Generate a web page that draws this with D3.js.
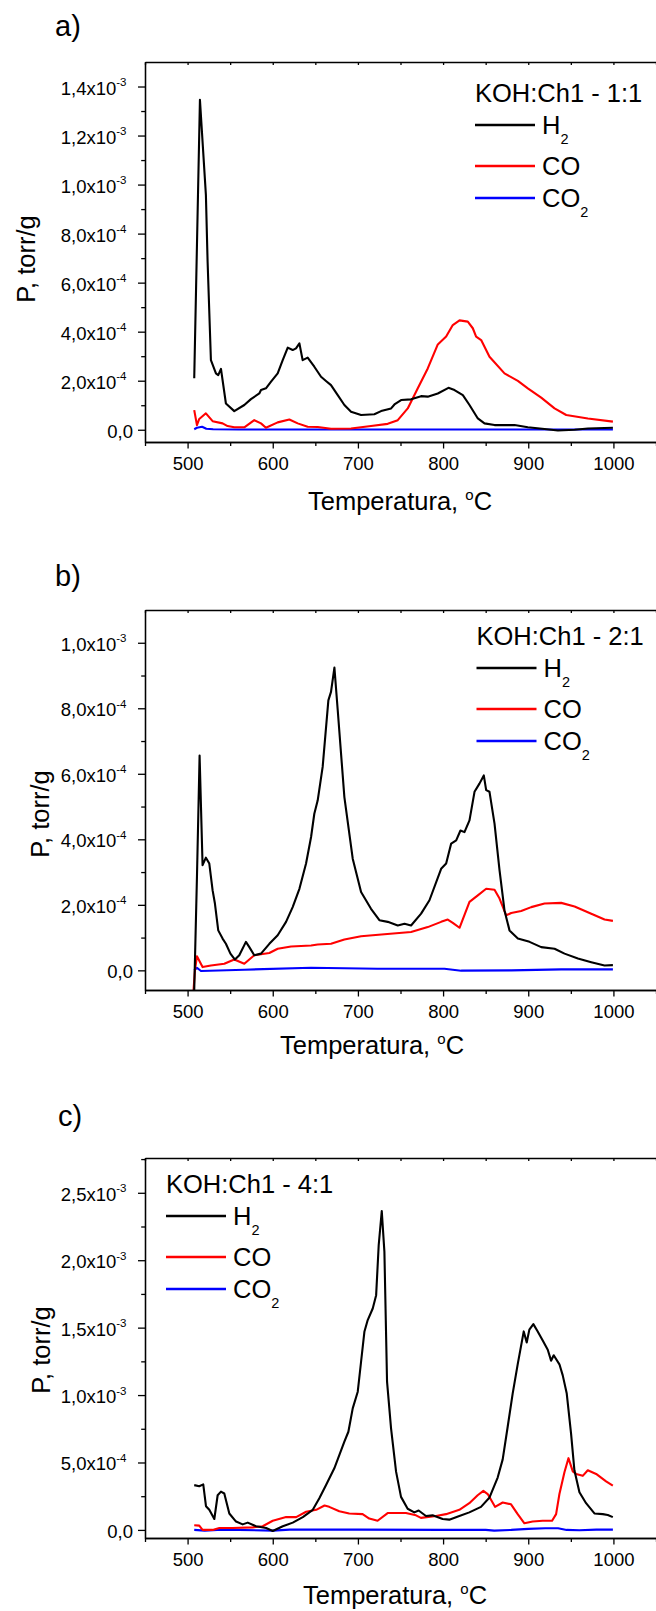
<!DOCTYPE html>
<html>
<head>
<meta charset="utf-8">
<script src="https://cdn.jsdelivr.net/npm/d3@7/dist/d3.min.js"></script>
<style>
	body { margin: 0; background: #fff; }
	svg { display: block; }
	text { font-family: Arial, "Liberation Sans", sans-serif; fill: #000; }
	.axis path, .axis line { stroke: #000; stroke-width: 1.3; }
</style>
</head>
<body>
<div id="chart"></div>
<script>
// ---------- DATA (P in units of 1e-4 torr/g, T in °C) ----------
const seriesNames = ["H2", "CO", "CO2"];
const seriesColors = ["#000000", "#ff0000", "#0000ff"];
const legendTitles = ["KOH:Ch1 - 1:1", "KOH:Ch1 - 2:1", "KOH:Ch1 - 4:1"];
const panelLabels = ["a)", "b)", "c)"];
const xTicks = [500, 600, 700, 800, 900, 1000];
const xMinorTicks = [450, 550, 650, 750, 850, 950, 1050];
const yTicksA = [0, 2, 4, 6, 8, 10, 12, 14];
const yTicksB = [0, 2, 4, 6, 8, 10];
const yTicksC = [0, 5, 10, 15, 20, 25];

// panel a) KOH:Ch1 - 1:1
const h2A = [[507.8,2.10],[514.5,13.46],[521.5,9.58],[523.5,6.86],[527.4,2.84],[533.3,2.30],[536.0,2.23],[539.2,2.48],[545.0,1.07],[554.8,0.76],[566.6,1.01],[574.4,1.25],[584.2,1.48],[586.2,1.62],[592.0,1.69],[598.0,1.96],[605.8,2.30],[611.7,2.84],[617.6,3.35],[623.4,3.25],[627.3,3.32],[631.3,3.52],[635.1,2.84],[641.0,2.94],[648.8,2.57],[656.7,2.16],[662.5,1.99],[668.4,1.82],[676.3,1.41],[684.1,1.01],[691.9,0.73],[703.7,0.60],[719.3,0.63],[727.2,0.76],[739.0,0.87],[742.9,1.03],[750.7,1.21],[762.4,1.24],[774.2,1.37],[782.0,1.35],[793.8,1.48],[806.3,1.71],[813.4,1.62],[823.2,1.41],[831.0,1.01],[840.8,0.46],[848.6,0.26],[860.4,0.19],[883.9,0.19],[899.5,0.10],[919.1,0.03],[934.8,-0.03],[954.4,0.00],[970.0,0.05],[999.4,0.08]];
const coA = [[507.8,0.80],[511.0,0.19],[513.7,0.44],[521.5,0.67],[529.4,0.35],[541.1,0.26],[547.0,0.15],[554.8,0.10],[566.6,0.10],[578.3,0.39],[586.2,0.26],[592.0,0.08],[605.8,0.30],[619.5,0.42],[629.3,0.26],[641.0,0.12],[652.8,0.11],[668.4,0.04],[691.9,0.05],[715.4,0.15],[735.0,0.24],[746.8,0.39],[758.5,0.87],[770.3,1.69],[782.0,2.50],[793.8,3.48],[803.6,3.80],[811.4,4.27],[819.3,4.46],[829.0,4.41],[834.9,4.14],[838.8,3.80],[844.7,3.66],[854.5,2.98],[872.1,2.30],[887.8,1.99],[899.5,1.69],[915.2,1.31],[930.9,0.87],[944.6,0.60],[970.0,0.46],[999.4,0.33]];
const co2A = [[507.8,0.02],[511.0,0.08],[517.0,0.12],[522.0,0.04],[530.0,0.02],[560.0,0.01],[700.0,0.01],[900.0,0.01],[999.4,0.01]];

// panel b) KOH:Ch1 - 2:1
const h2B = [[507.8,-0.61],[511.0,2.85],[514.1,6.56],[517.6,3.21],[521.5,3.44],[525.5,3.26],[529.4,2.44],[532.1,2.04],[536.0,1.22],[541.1,0.97],[545.0,0.81],[550.3,0.51],[555.6,0.33],[560.7,0.46],[568.5,0.87],[572.5,0.71],[578.3,0.46],[586.2,0.51],[596.0,0.81],[605.8,1.07],[615.6,1.48],[623.4,1.93],[631.3,2.49],[639.1,3.26],[645.0,4.07],[648.8,4.78],[652.8,5.19],[658.6,6.21],[665.3,8.24],[668.4,8.50],[672.4,9.24],[676.3,7.94],[684.1,5.29],[693.9,3.41],[703.7,2.39],[715.4,1.88],[725.2,1.53],[735.0,1.48],[746.8,1.37],[754.7,1.42],[762.4,1.37],[774.2,1.73],[784.0,2.14],[797.7,3.10],[803.6,3.26],[809.5,3.87],[815.4,3.97],[820.4,4.27],[825.1,4.22],[831.0,4.58],[836.9,5.45],[842.7,5.70],[847.8,5.95],[850.6,5.50],[854.5,5.45],[860.4,4.48],[866.3,3.05],[872.1,1.83],[878.0,1.22],[887.8,0.97],[901.5,0.87],[915.2,0.71],[930.9,0.66],[942.6,0.51],[958.3,0.36],[974.0,0.25],[989.6,0.15],[999.4,0.16]];
const coB = [[507.0,-0.61],[508.6,0.00],[511.0,0.43],[517.6,0.10],[527.4,0.15],[543.1,0.20],[554.8,0.33],[566.6,0.20],[578.3,0.46],[596.0,0.53],[605.8,0.66],[621.5,0.73],[645.0,0.76],[652.8,0.79],[668.4,0.81],[684.1,0.94],[703.7,1.04],[731.1,1.10],[762.4,1.17],[782.0,1.32],[797.7,1.48],[805.5,1.55],[811.4,1.45],[819.3,1.30],[831.0,2.09],[840.8,2.29],[850.6,2.49],[860.4,2.46],[866.3,2.19],[874.1,1.68],[880.0,1.75],[891.7,1.81],[903.5,1.93],[919.1,2.04],[938.7,2.06],[954.4,1.95],[974.0,1.73],[989.6,1.55],[999.4,1.51]];
const co2B = [[507.8,0.00],[511.0,0.08],[515.7,-0.02],[566.6,0.02],[645.0,0.08],[723.0,0.05],[801.6,0.05],[821.2,-0.01],[880.0,0.00],[938.7,0.03],[999.4,0.03]];

// panel c) KOH:Ch1 - 4:1
const h2C = [[507.8,3.32],[513.7,3.24],[518.4,3.38],[521.6,1.76],[525.5,1.49],[531.4,0.81],[535.3,2.57],[539.2,2.84],[543.1,2.70],[549.0,1.22],[556.9,0.62],[564.7,0.41],[570.6,0.54],[580.4,0.27],[592.2,0.14],[600.0,-0.08],[611.8,0.27],[623.5,0.54],[635.3,0.95],[647.0,1.49],[654.7,2.35],[662.6,3.33],[672.3,4.57],[684.1,6.54],[688.8,7.28],[693.9,9.01],[699.8,10.25],[703.7,12.47],[707.6,14.69],[711.5,15.56],[717.4,16.42],[721.4,17.41],[724.4,21.11],[728.0,23.65],[731.1,20.62],[734.2,10.99],[738.9,7.53],[744.8,4.32],[750.6,2.45],[758.4,1.57],[766.2,1.30],[771.3,1.44],[779.9,1.03],[787.7,1.08],[799.5,0.81],[807.3,0.76],[819.1,1.03],[830.8,1.30],[844.5,1.71],[854.3,2.38],[864.1,3.88],[870.0,5.23],[875.9,7.67],[881.7,10.11],[887.6,12.28],[894.7,14.72],[898.2,13.90],[901.3,14.85],[906.0,15.26],[911.1,14.72],[917.0,14.04],[922.9,13.36],[926.8,12.55],[929.9,12.95],[936.6,12.28],[940.5,11.46],[945.2,10.11],[950.3,7.13],[954.2,4.42],[960.1,2.79],[967.9,1.98],[977.7,1.22],[987.5,1.17],[993.4,1.11],[999.3,0.95]];
const coC = [[507.8,0.35],[513.7,0.32],[517.6,0.00],[529.4,0.00],[537.3,0.14],[553.0,0.14],[576.5,0.19],[588.2,0.27],[600.0,0.68],[615.7,0.95],[627.5,0.95],[639.2,1.35],[651.0,1.49],[660.8,1.81],[666.3,1.71],[678.1,1.38],[689.8,1.22],[705.5,1.17],[713.3,0.84],[723.1,0.68],[734.9,1.25],[756.4,1.25],[768.2,1.08],[774.0,0.89],[791.7,1.03],[803.4,1.17],[819.1,1.49],[830.8,1.98],[840.6,2.57],[847.3,2.90],[852.4,2.66],[861.0,1.71],[870.0,2.03],[879.8,1.90],[887.6,1.17],[895.5,0.49],[905.2,0.62],[917.0,0.68],[928.0,0.68],[932.7,1.17],[936.6,2.66],[942.5,4.28],[947.2,5.32],[952.3,4.34],[956.2,4.15],[964.0,4.01],[969.9,4.42],[979.7,4.15],[991.4,3.60],[999.3,3.28]];
const co2C = [[507.8,0.00],[520.0,-0.05],[540.0,0.02],[600.0,-0.05],[620.0,0.02],[700.0,0.02],[800.0,0.00],[850.0,0.00],[860.0,-0.05],[880.0,0.00],[900.0,0.08],[920.0,0.12],[935.0,0.12],[945.0,0.00],[960.0,-0.03],[980.0,0.02],[999.4,0.02]];

// ---------- LAYOUT ----------
const W = 656, H = 1611;
const plot = { left: 145, right: 656, h: 380 };
const panels = [
	{ top: 62, yDomain: [-0.5, 15.0], yTicks: yTicksA, yMinorStep: 1, series: [h2A, coA, co2A],
		label: { x: 55, y: 36 }, legend: { x: 475, y: 102 }, yTitle: { x: 35, y: 259 }, xTitle: { x: 400, y: 510 } },
	{ top: 610, yDomain: [-0.6, 11.0], yTicks: yTicksB, yMinorStep: 1, series: [h2B, coB, co2B],
		label: { x: 55, y: 586 }, legend: { x: 476.5, y: 645 }, yTitle: { x: 49, y: 814 }, xTitle: { x: 372, y: 1054 } },
	{ top: 1158, yDomain: [-0.6, 27.58], yTicks: yTicksC, yMinorStep: 2.5, series: [h2C, coC, co2C],
		label: { x: 58, y: 1126 }, legend: { x: 166, y: 1193 }, yTitle: { x: 50, y: 1350 }, xTitle: { x: 395, y: 1604 } },
];

const svg = d3.select("#chart").append("svg").attr("width", W).attr("height", H);
const defs = svg.append("defs");
const x = d3.scaleLinear().domain([450, 1050]).range([plot.left, plot.right]);

function tickLabel(v) {
	if (v === 0) return { base: "0,0", exp: null };
	const val = v * 1e-4;
	const e = Math.floor(Math.log10(val) + 1e-9);
	const m = (val / Math.pow(10, e)).toFixed(1).replace(".", ",");
	return { base: `${m}x10`, exp: `${e}` };
}

panels.forEach((p, i) => {
	const bottom = p.top + plot.h;
	const y = d3.scaleLinear().domain(p.yDomain).range([bottom, p.top]);
	const g = svg.append("g").classed(`panel__${i}`, true);

	defs.append("clipPath").attr("id", `clip__${i}`)
		.append("rect")
		.attr("x", plot.left).attr("y", p.top)
		.attr("width", plot.right - plot.left).attr("height", plot.h);

	// curves
	const line = d3.line().x((d) => x(d[0])).y((d) => y(d[1]));
	const curves = g.append("g").attr("clip-path", `url(#clip__${i})`);
	[2, 1, 0].forEach((k) => {
		curves.append("path")
			.datum(p.series[k])
			.attr("d", line)
			.attr("fill", "none")
			.attr("stroke", seriesColors[k])
			.attr("stroke-width", 2.1)
			.attr("stroke-linejoin", "round");
	});

	// bottom axis
	g.append("g").classed("axis", true)
		.attr("transform", `translate(0,${bottom})`)
		.call(d3.axisBottom(x).tickValues(xMinorTicks).tickSize(4).tickSizeOuter(0).tickFormat(""));
	const xAxis = g.append("g").classed("axis", true)
		.attr("transform", `translate(0,${bottom})`)
		.call(d3.axisBottom(x).tickValues(xTicks).tickSize(6.5).tickSizeOuter(0).tickPadding(8.4).tickFormat(d3.format("d")));
	xAxis.selectAll("text").attr("font-size", 18.5).attr("font-family", null);

	// top axis (ticks inward)
	g.append("g").classed("axis", true)
		.attr("transform", `translate(0,${p.top})`)
		.call(d3.axisTop(x).tickValues(xTicks.concat(xMinorTicks)).tickSize(-3).tickSizeOuter(0).tickFormat(""));

	// left axis
	const yMax = p.yDomain[1];
	const minor = d3.range(0, yMax, p.yMinorStep).filter((v) => !p.yTicks.includes(v));
	g.append("g").classed("axis", true)
		.attr("transform", `translate(${plot.left},0)`)
		.call(d3.axisLeft(y).tickValues(minor).tickSize(3.8).tickSizeOuter(0).tickFormat(""));
	const yAxis = g.append("g").classed("axis", true)
		.attr("transform", `translate(${plot.left},0)`)
		.call(d3.axisLeft(y).tickValues(p.yTicks).tickSize(7).tickSizeOuter(0).tickFormat(""));
	yAxis.selectAll(".tick text").each(function (d) {
		const t = d3.select(this);
		const lab = tickLabel(d);
		t.attr("font-size", 18.5).attr("font-family", null)
			.attr("text-anchor", "end").attr("dy", 7.5)
			.attr("x", lab.exp ? -18.5 : -12);
		t.text(null);
		t.append("tspan").text(lab.base);
		if (lab.exp) t.append("tspan").attr("font-size", 11.5).attr("dy", -8.5).text(lab.exp);
	});

	// axis titles
	const xt = g.append("text").attr("x", p.xTitle.x).attr("y", p.xTitle.y)
		.attr("text-anchor", "middle").attr("font-size", 25.5);
	xt.append("tspan").text("Temperatura, ");
	xt.append("tspan").attr("font-size", 15).attr("dy", -10).text("o");
	xt.append("tspan").attr("dy", 10).text("C");

	g.append("text")
		.attr("transform", `translate(${p.yTitle.x},${p.yTitle.y}) rotate(-90)`)
		.attr("text-anchor", "middle").attr("font-size", 25.5)
		.text("P, torr/g");

	// panel label
	g.append("text").attr("x", p.label.x).attr("y", p.label.y)
		.attr("font-size", 29).text(panelLabels[i]);

	// legend
	const lg = g.append("g").classed("legend", true);
	lg.append("text").attr("x", p.legend.x).attr("y", p.legend.y)
		.attr("font-size", 25.5).text(legendTitles[i]);
	const rowOffsets = [23, 64, 96];
	seriesNames.forEach((name, k) => {
		const ly = p.legend.y + rowOffsets[k];
		lg.append("line")
			.attr("x1", p.legend.x).attr("x2", p.legend.x + 60)
			.attr("y1", ly).attr("y2", ly)
			.attr("stroke", seriesColors[k]).attr("stroke-width", 2.3);
		const t = lg.append("text").attr("x", p.legend.x + 67).attr("y", ly + 9.3).attr("font-size", 25.5);
		if (name.endsWith("2")) {
			t.append("tspan").text(name.slice(0, -1));
			t.append("tspan").attr("font-size", 14.5).attr("dy", 10).text("2");
		} else {
			t.text(name);
		}
	});
});
</script>
</body>
</html>
